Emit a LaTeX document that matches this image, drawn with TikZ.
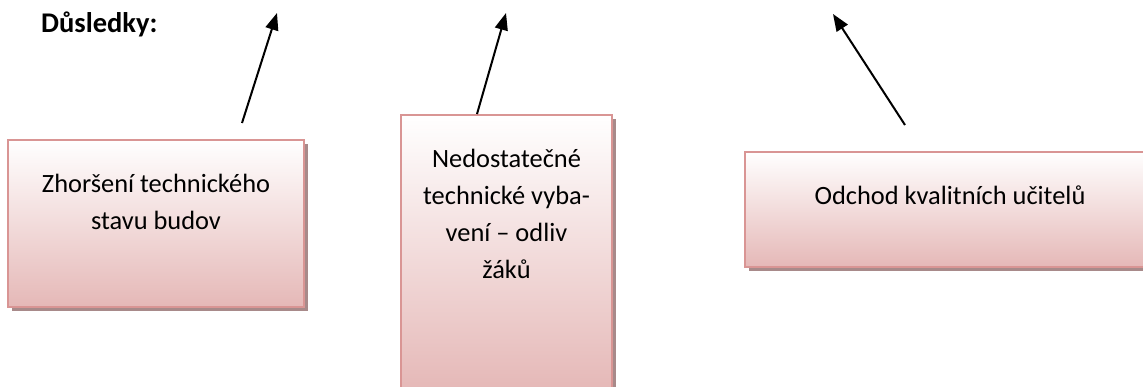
\documentclass[tikz,border=0pt]{standalone}
\usepackage{fontspec}
\setmainfont{Carlito}
\usetikzlibrary{shadows,arrows.meta}
\definecolor{boxborder}{HTML}{D99594}
\definecolor{boxbottom}{HTML}{E5B8B7}
\definecolor{boxshadow}{RGB}{168,138,138}
\newcommand{\boxtext}[3]{\parbox[t][#2][t]{#1}{\fontsize{26.4}{37}\selectfont\centering\rule{0pt}{53pt}#3}}
\begin{document}
\begin{tikzpicture}[x=1pt,y=-1pt,
  causebox/.style={draw=boxborder, line width=2pt, top color=white, bottom color=boxbottom,
    inner sep=0pt, outer sep=0pt, anchor=north west,
    drop shadow={shadow xshift=4pt, shadow yshift=-4pt, fill=boxshadow, opacity=1}},
  arrowline/.style={line width=2pt, -{Triangle[length=17pt,width=13pt]}},
  titlestyle/.style={font=\fontsize{28.5}{34}\selectfont\bfseries, anchor=base west, inner sep=0pt}]
\useasboundingbox (0,0) rectangle (1143,387);
\clip (0,0) rectangle (1143,387);

\node[titlestyle] (title) at (41,33) {Důsledky:};

\node[causebox] (b1) at (8,140) {\boxtext{296pt}{167pt}{Zhoršení technického\\stavu budov}};
\node[causebox] (b2) at (401,115) {\boxtext{211pt}{276pt}{Nedostatečné\\technické vyba-\\vení – odliv\\žáků}};
\node[causebox] (b3) at (745,152) {\boxtext{410pt}{115pt}{Odchod kvalitních učitelů}};

\coordinate (a1s) at (242,123);
\coordinate (a1e) at (277,13);
\coordinate (a2s) at (477,114);
\coordinate (a2e) at (506,13);
\coordinate (a3s) at (905,125);
\coordinate (a3e) at (833,14);

\draw[arrowline] (a1s) -- (a1e);
\draw[arrowline] (a2s) -- (a2e);
\draw[arrowline] (a3s) -- (a3e);
\end{tikzpicture}
\end{document}
